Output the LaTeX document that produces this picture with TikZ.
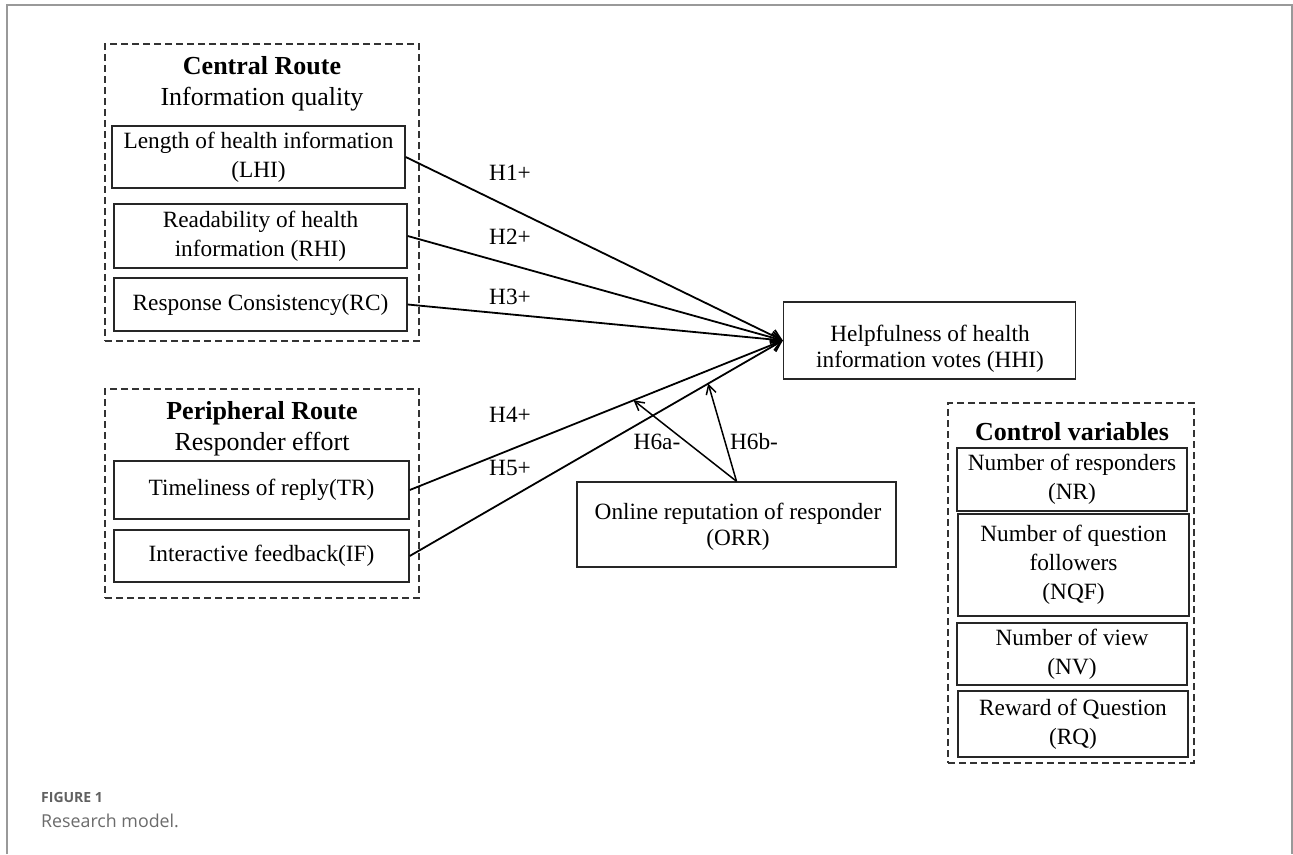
\documentclass[tikz,border=0pt]{standalone}
\usepackage{fontspec}
\setmainfont{Liberation Serif}
\newfontfamily\capfont{Open Sans}
\usetikzlibrary{arrows.meta,calc}
\begin{document}
\begin{tikzpicture}[x=1pt,y=-1pt,
  box/.style={draw=black!85,line width=1.4pt,inner sep=0pt,align=center,
    font=\fontsize{23.3}{29}\selectfont},
  txt/.style={inner sep=0pt,align=center,font=\fontsize{23.3}{26.5}\selectfont},
  grp/.style={draw=black!80,line width=1.2pt,dash pattern=on 7pt off 4pt,inner sep=0pt},
  head/.style={inner sep=0pt,align=center,font=\fontsize{26}{31}\selectfont},
  hlab/.style={inner sep=0pt,font=\fontsize{23.3}{29}\selectfont},
  arr/.style={line width=1.8pt,-{Straight Barb[length=10pt,width=12pt,line width=1.8pt]}},
  modarr/.style={line width=1.5pt,-{Straight Barb[length=9pt,width=10pt,line width=1.5pt]}},
  framel/.style={draw=black!40,line width=1.5pt}
]
\useasboundingbox (0,0) rectangle (1293,854);
\fill[white] (0,0) rectangle (1293,854);
\draw[framel] (7,854) -- (7,5) -- (1292,5) -- (1292,854);

% groups
\node[grp,minimum width=314pt,minimum height=297pt] (central) at (262,192.5) {};
\node[grp,minimum width=314pt,minimum height=209pt] (periph) at (262,493.5) {};
\node[grp,minimum width=246pt,minimum height=360pt] (control) at (1071,583) {};

% headings
\node[head] (chead) at (262,84) {\textbf{Central Route}\\Information quality};
\node[head] (phead) at (262,429) {\textbf{Peripheral Route}\\Responder effort};
\node[head] (cvhead) at (1072,432) {\textbf{Control variables}};

% central route boxes
\node[box,minimum width=293pt,minimum height=62pt] (LHI) at (258.5,157) {Length of health information\\(LHI)};
\node[box,minimum width=293pt,minimum height=64pt] (RHI) at (260.5,236) {Readability of health\\information (RHI)};
\node[box,minimum width=293pt,minimum height=53pt] (RC) at (260.5,304.5) {Response Consistency(RC)};

% peripheral route boxes
\node[box,minimum width=295pt,minimum height=58pt] (TR) at (261.5,490) {Timeliness of reply(TR)};
\node[box,minimum width=295pt,minimum height=52pt] (IF) at (261.5,556) {Interactive feedback(IF)};

% outcome and moderator
\node[box,minimum width=292pt,minimum height=77pt] (HHI) at (929.5,340.5) {};
\node[txt] (HHItext) at (930,349) {Helpfulness of health\\information votes (HHI)};
\node[box,minimum width=319pt,minimum height=85pt] (ORR) at (736.5,524.5) {};
\node[txt] (ORRtext) at (738,527) {Online reputation of responder\\(ORR)};

% control variables
\node[box,minimum width=230pt,minimum height=63pt] (NR) at (1072,479.5) {Number of responders\\(NR)};
\node[box,minimum width=231pt,minimum height=102pt] (NQF) at (1073.5,565) {Number of question\\followers\\(NQF)};
\node[box,minimum width=230pt,minimum height=62pt] (NV) at (1072,654) {Number of view\\(NV)};
\node[box,minimum width=230pt,minimum height=66pt] (RQ) at (1073,724) {Reward of Question\\(RQ)};

% main arrows
\draw[arr] (LHI.east) -- (HHI.west);
\draw[arr] (RHI.east) -- (HHI.west);
\draw[arr] (RC.east) -- (HHI.west);
\draw[arr] (TR.east) -- (HHI.west);
\draw[arr] (IF.east) -- (HHI.west);

% moderation arrows
\coordinate (m1) at ($(TR.east)!0.6!(HHI.west)$);
\coordinate (m2) at ($(IF.east)!0.8!(HHI.west)$);
\draw[modarr] (ORR.north) -- (m1);
\draw[modarr] (ORR.north) -- (m2);

% labels
\node[hlab] (h1) at (510,173) {H1+};
\node[hlab] (h2) at (510,237) {H2+};
\node[hlab] (h3) at (510,297) {H3+};
\node[hlab] (h4) at (510,415) {H4+};
\node[hlab] (h5) at (510,468) {H5+};
\node[hlab] (h6a) at (657,442) {H6a-};
\node[hlab] (h6b) at (754,442) {H6b-};

% caption
\node[anchor=west,inner sep=0pt,text=black!62,font=\capfont\bfseries\fontsize{14}{17}\selectfont] (fig) at (41,797) {FIGURE 1};
\node[anchor=west,inner sep=0pt,text=black!58,font=\capfont\fontsize{17.8}{21}\selectfont] (cap) at (41,821) {Research model.};
\end{tikzpicture}
\end{document}
